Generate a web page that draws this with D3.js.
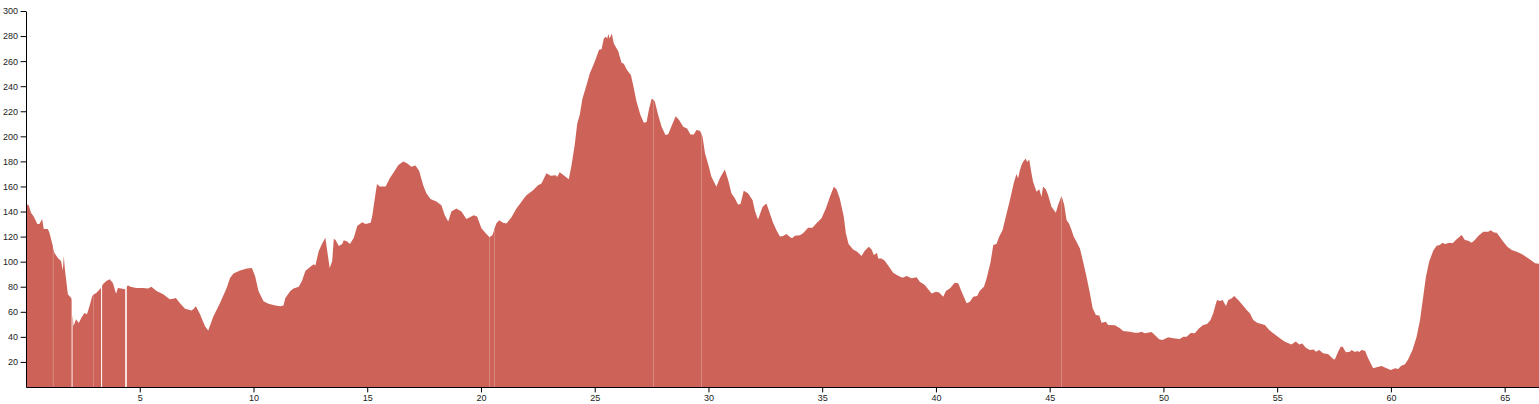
<!DOCTYPE html>
<html>
<head>
<meta charset="utf-8">
<script src="https://cdn.jsdelivr.net/npm/d3@7"></script>
<style>
  html, body { margin: 0; padding: 0; background: #fff; }
  svg { display: block; }
  .axis text { font-family: "Liberation Sans", Arial, sans-serif; font-size: 9px; fill: #222; }
  .axis path, .axis line { stroke: #000; }
</style>
</head>
<body>
<svg id="chart" width="1539" height="404"></svg>
<script>
// Elevation profile: [distance km, elevation m]; null = gap in the recording
const profile = [
  [0,146],[0.12,145],[0.22,139],[0.34,136],[0.5,130],[0.59,130],[0.71,134],[0.78,126],[0.96,126],[1.03,123],
  [1.18,112.5],[1.185,112],[1.19,null],[1.195,111],[1.25,107],[1.4,103],[1.54,100.5],[1.62,93],[1.66,104.5],[1.71,94],
  [1.84,74],[1.99,71],[2.0,70],[2.005,69],[2.02,null],[2.045,58],[2.09,48.5],[2.2,54],[2.32,51],[2.43,55],
  [2.57,59],[2.68,58],[2.79,64.5],[2.91,72.5],[2.945,73.5],[2.95,null],[2.955,73.6],[3.09,75],[3.24,78],
  [3.30,79],[3.32,null],[3.345,80.5],[3.38,82],[3.53,84.5],[3.68,86],[3.82,83],[3.96,74.5],[4.04,79],[4.19,78.5],
  [4.34,78],[4.355,78],[4.37,null],[4.39,79],[4.405,79.5],[4.42,null],[4.44,80.5],[4.49,81],[4.59,80],[4.85,79],
  [5.15,79],[5.37,78.5],[5.51,80],[5.74,76.5],[6.03,74],[6.32,70],[6.47,70.5],[6.59,71],[6.76,67],[6.99,62.5],
  [7.28,61],[7.35,62],[7.47,64.5],[7.65,58],[7.87,48.5],[8.01,45],[8.24,56.5],[8.53,67],[8.82,79],[8.97,87],
  [9.12,90.5],[9.41,93],[9.71,94.5],[9.93,95],[10.07,88.5],[10.22,76.5],[10.44,68.5],[10.66,66.5],[10.96,65],[11.18,64.5],
  [11.32,65],[11.4,71],[11.62,76.5],[11.76,78.5],[11.99,80],[12.13,84.5],[12.28,92.5],[12.5,96],[12.65,98],[12.72,97],
  [12.87,108.5],[13.01,114],[13.16,119],[13.21,112.5],[13.35,95],[13.46,100.5],[13.53,118],[13.6,117.5],[13.75,112.5],[13.9,114],
  [13.97,117],[14.12,116],[14.24,114],[14.41,119],[14.56,128.5],[14.78,131.5],[14.93,130],[15.15,131],[15.22,136.5],[15.37,155],
  [15.43,162],[15.55,160],[15.81,160],[15.99,166.5],[16.21,172.5],[16.36,177],[16.58,180],[16.75,178.5],[16.94,175.7],[17.12,176.7],
  [17.28,172.5],[17.46,161],[17.6,154.5],[17.78,150],[18.04,148],[18.26,145],[18.41,137],[18.56,132],[18.7,140],[18.92,142.5],
  [19.14,140],[19.36,134],[19.51,135.4],[19.68,137],[19.83,136],[20.02,126.6],[20.21,122.6],[20.365,119.6],[20.37,null],[20.375,119.5],
  [20.5,121],[20.575,125],[20.58,null],[20.585,126],[20.68,130.6],[20.8,133],[20.97,131],[21.12,130.5],[21.34,135.5],[21.56,142.5],
  [21.71,146],[21.85,149.7],[22.0,153],[22.29,157],[22.51,161],[22.66,162.4],[22.88,170.5],[23.06,168.6],[23.29,169],[23.35,167.5],
  [23.46,171.3],[23.68,168.4],[23.86,165.7],[23.98,177],[24.12,193],[24.23,210],[24.34,217],[24.46,230],[24.64,241],[24.78,250],
  [25.0,259.5],[25.19,269],[25.3,269.4],[25.4,278],[25.49,279.5],[25.55,278],[25.6,281.6],[25.66,278],[25.75,282],[25.84,274],
  [26.03,268],[26.18,258.7],[26.28,258],[26.42,253],[26.59,249],[26.69,241],[26.84,227.6],[27.01,217],[27.16,210.8],[27.28,211.5],
  [27.39,222],[27.5,229.7],[27.565,229.5],[27.57,null],[27.575,229.3],[27.64,228],[27.79,217],[27.94,207.6],[28.11,201],[28.23,201.7],
  [28.42,210],[28.56,216],[28.71,213],[28.89,207.6],[29.06,206.3],[29.21,201.5],[29.36,201.5],[29.47,205],[29.62,204.5],[29.685,202.5],
  [29.69,null],[29.695,202],[29.74,199.7],[29.85,186.4],[29.98,178.4],[30.13,167.8],[30.35,159.8],[30.5,166.5],[30.72,173.6],[30.87,165],
  [31.01,154.5],[31.16,150.5],[31.3,145.7],[31.41,146],[31.55,156.6],[31.74,154.5],[31.94,149],[32.05,140],[32.18,133.7],[32.38,143.8],
  [32.55,146.5],[32.7,138.5],[32.84,131],[32.99,125],[33.14,120],[33.28,120.4],[33.43,122],[33.58,119.7],[33.68,118.6],[33.8,120.6],
  [34.02,121],[34.16,122.6],[34.38,127],[34.57,127],[34.75,130.6],[34.97,134.6],[35.16,142.5],[35.34,151.8],[35.51,159.8],[35.63,157.7],
  [35.77,150.5],[35.95,135.9],[36.04,122.6],[36.16,114],[36.36,109.8],[36.54,108],[36.73,104.5],[36.87,108.7],[37.05,111.9],[37.17,109.8],
  [37.27,105.3],[37.41,107],[37.46,102.6],[37.61,102.6],[37.75,100.8],[37.94,96],[38.12,91.2],[38.34,88.8],[38.53,87.2],[38.71,88.5],
  [38.93,86.7],[39.15,87.6],[39.29,84],[39.51,81.4],[39.66,77.9],[39.81,74.7],[40.0,76],[40.14,75.4],[40.32,72],[40.44,76.6],
  [40.62,78.7],[40.83,83.2],[40.98,82.7],[41.13,76],[41.35,66.8],[41.49,68],[41.64,72],[41.81,72.7],[41.93,76.8],[42.11,80],
  [42.23,86.7],[42.4,99.5],[42.52,113.3],[42.66,114],[42.78,119.9],[42.93,125.2],[43.07,135.9],[43.25,149],[43.42,162.5],[43.54,170],
  [43.61,166.5],[43.69,173],[43.76,177],[43.83,179.7],[43.95,182.4],[44.01,179.5],[44.1,181.6],[44.2,170.5],[44.27,163.8],[44.42,155.8],
  [44.54,157.7],[44.64,151.8],[44.71,159.8],[44.83,157.7],[44.93,153.2],[45.08,143.8],[45.27,139],[45.37,145.2],[45.45,149],[45.515,152.2],
  [45.52,null],[45.525,152.4],[45.64,145.2],[45.74,133.2],[45.86,130],[45.96,125.2],[46.06,119.9],[46.18,115.9],[46.33,110.6],[46.47,100],
  [46.62,88],[46.77,74.7],[46.89,62.8],[47.03,57.4],[47.18,57],[47.28,51.3],[47.47,52],[47.57,49.5],[47.87,49.3],[48.09,46.8],
  [48.23,44.7],[48.53,44.1],[48.74,43.3],[48.89,43.3],[49.04,44.1],[49.18,42.8],[49.48,43.9],[49.62,41.5],[49.81,38],[49.96,37.5],
  [50.21,39.6],[50.43,38.8],[50.72,38.3],[50.87,40],[51.02,40],[51.2,43],[51.38,42.8],[51.57,46.8],[51.75,49.5],[51.92,50.3],
  [52.07,53.4],[52.19,58.8],[52.31,66.8],[52.36,69.4],[52.48,68.6],[52.6,69.4],[52.75,64.6],[52.85,69.4],[52.99,70.7],[53.11,72.6],
  [53.29,69.4],[53.48,65.4],[53.66,61.4],[53.8,58.8],[53.95,53.4],[54.12,51.3],[54.46,49.5],[54.65,45.5],[54.83,42.8],[55.12,38.8],
  [55.34,36.1],[55.63,34],[55.82,36.4],[55.97,34],[56.1,34.8],[56.26,31.4],[56.44,29.5],[56.61,30],[56.7,28.2],[56.85,29.5],
  [57.02,26.9],[57.25,26.1],[57.47,22.1],[57.54,22.1],[57.68,28.2],[57.79,32.2],[57.88,32.2],[58.02,27.8],[58.2,28.2],[58.27,29.5],
  [58.42,28],[58.52,28.8],[58.61,28],[58.71,29.5],[58.86,29],[59.0,22.9],[59.22,14.9],[59.37,15.7],[59.59,16.7],[59.81,14.9],
  [59.99,13.6],[60.18,14.9],[60.32,14.4],[60.44,16.7],[60.62,18.1],[60.76,22.1],[60.95,29.5],[61.13,40.1],[61.28,53.4],[61.42,72],
  [61.54,88],[61.68,100],[61.86,108.7],[62.01,112.7],[62.15,113.3],[62.27,115.1],[62.37,114],[62.59,115.1],[62.71,114.6],[62.89,117.8],
  [63.11,121.2],[63.25,117.3],[63.4,116.7],[63.55,115.1],[63.69,117.3],[63.84,120.4],[64.06,123.9],[64.28,123.9],[64.38,125],[64.53,123.3],
  [64.65,123],[64.8,119.4],[64.94,115.9],[65.12,111.9],[65.31,109.3],[65.53,108],[65.75,106.1],[65.97,103.5],[66.19,100.8],[66.34,98.7],
  [66.51,98.4]
];
const yTicks = [20,40,60,80,100,120,140,160,180,200,220,240,260,280,300];
const xTicks = [5,10,15,20,25,30,35,40,45,50,55,60,65];
const yMax = 300;

const W = 1539, H = 404;
const margin = {top: 11, right: 0, bottom: 17, left: 26};
const width = W - margin.left - margin.right;
const height = H - margin.top - margin.bottom;

const svg = d3.select("#chart");
const g = svg.append("g").attr("transform", `translate(${margin.left},${margin.top})`);

const x = d3.scaleLinear().domain([0, d3.max(profile, d => d[0])]).range([0, width]);
const y = d3.scaleLinear().domain([0, yMax]).range([height, 0]);

const area = d3.area()
  .defined(d => d[1] != null)
  .x(d => x(d[0]))
  .y0(height)
  .y1(d => y(d[1]));

g.append("path")
  .datum(profile)
  .attr("fill", "#cd6358")
  .attr("d", area);

g.append("g")
  .attr("class", "axis x-axis")
  .attr("transform", `translate(0,${height})`)
  .call(d3.axisBottom(x).tickValues(xTicks).tickSize(5.4).tickSizeOuter(0).tickPadding(2.7));

g.append("g")
  .attr("class", "axis y-axis")
  .call(d3.axisLeft(y).tickValues(yTicks).tickSize(5.4).tickSizeOuter(0).tickPadding(2.7));

g.selectAll(".axis text").attr("font-size", null).attr("font-family", null);
</script>
</body>
</html>
